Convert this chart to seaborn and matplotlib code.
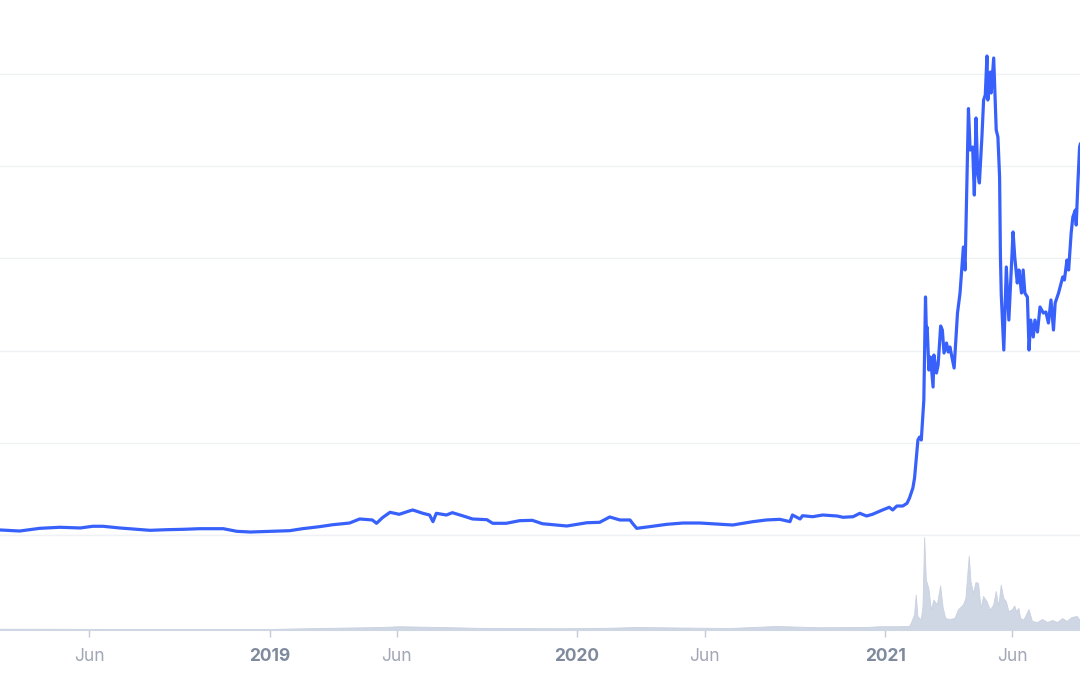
import pandas as pd
import matplotlib.pyplot as plt
import seaborn as sns

# price line, USD
price_dates = [
    '2018-02-15', '2018-03-10', '2018-04-03', '2018-04-27', '2018-05-21', '2018-06-05',
    '2018-06-17', '2018-07-07', '2018-07-23', '2018-08-12', '2018-09-01', '2018-09-20',
    '2018-10-10', '2018-11-07', '2018-11-23', '2018-12-09', '2019-01-01', '2019-01-25',
    '2019-02-09', '2019-03-01', '2019-03-17', '2019-04-06', '2019-04-18', '2019-05-03',
    '2019-05-08', '2019-05-15', '2019-05-24', '2019-06-04', '2019-06-16', '2019-06-20',
    '2019-07-02', '2019-07-10', '2019-07-14', '2019-07-18', '2019-07-30', '2019-08-06',
    '2019-08-18', '2019-08-30', '2019-09-16', '2019-09-23', '2019-10-09', '2019-10-25',
    '2019-11-09', '2019-11-21', '2019-12-20', '2020-01-13', '2020-01-28', '2020-02-09',
    '2020-02-21', '2020-03-04', '2020-03-07', '2020-03-12', '2020-03-27', '2020-04-17',
    '2020-05-06', '2020-05-26', '2020-06-19', '2020-07-04', '2020-07-28', '2020-08-13',
    '2020-08-29', '2020-09-10', '2020-09-13', '2020-09-18', '2020-09-22', '2020-09-25',
    '2020-10-07', '2020-10-19', '2020-11-05', '2020-11-12', '2020-11-24', '2020-12-02',
    '2020-12-10', '2020-12-17', '2020-12-29', '2021-01-06', '2021-01-10', '2021-01-15',
    '2021-01-22', '2021-01-27', '2021-01-30', '2021-02-03', '2021-02-05', '2021-02-08',
    '2021-02-09', '2021-02-11', '2021-02-13', '2021-02-16', '2021-02-18', '2021-02-19',
    '2021-02-20', '2021-02-22', '2021-02-24', '2021-02-27', '2021-02-28', '2021-03-03',
    '2021-03-05', '2021-03-08', '2021-03-10', '2021-03-12', '2021-03-15', '2021-03-17',
    '2021-03-19', '2021-03-24', '2021-03-28', '2021-03-31', '2021-04-04', '2021-04-06',
    '2021-04-10', '2021-04-12', '2021-04-15', '2021-04-17', '2021-04-19', '2021-04-21',
    '2021-04-23', '2021-04-26', '2021-04-28', '2021-04-30', '2021-05-02', '2021-05-03',
    '2021-05-06', '2021-05-07', '2021-05-10', '2021-05-12', '2021-05-13', '2021-05-15',
    '2021-05-17', '2021-05-18', '2021-05-19', '2021-05-22', '2021-05-25', '2021-05-28',
    '2021-06-02', '2021-06-04', '2021-06-07', '2021-06-09', '2021-06-12', '2021-06-14',
    '2021-06-16', '2021-06-19', '2021-06-21', '2021-06-23', '2021-06-26', '2021-06-28',
    '2021-07-01', '2021-07-04', '2021-07-08', '2021-07-11', '2021-07-14', '2021-07-17',
    '2021-07-20', '2021-07-22', '2021-07-26', '2021-07-31', '2021-08-02', '2021-08-05',
    '2021-08-07', '2021-08-10', '2021-08-12', '2021-08-15', '2021-08-16', '2021-08-18',
    '2021-08-20', '2021-08-21',
]
price_usd = [
    7.1, 5.6, 9.4, 10.9, 9.9, 12.3,
    12.3, 9.9, 8.5, 6.6, 7.5, 8.0,
    8.9, 8.9, 5.2, 4.2, 5.2, 6.1,
    8.9, 11.7, 14.5, 16.9, 22.6, 21.2,
    16.5, 24.4, 32.0, 29.2, 33.9, 35.3,
    30.6, 28.2, 18.8, 30.6, 28.2, 31.5,
    27.2, 22.6, 21.6, 16.5, 16.5, 20.2,
    20.7, 15.9, 12.7, 17.3, 17.9, 25.4,
    21.2, 21.2, 16.5, 9.4, 11.7, 15.1,
    16.9, 16.9, 15.1, 14.1, 18.8, 21.2,
    22.1, 18.8, 28.2, 25.0, 22.6, 27.2,
    25.8, 28.2, 26.8, 25.0, 25.8, 30.6,
    26.8, 29.2, 35.3, 39.1, 35.3, 40.9,
    40.9, 44.7, 52.2, 66.3, 80.4, 119.9,
    134.0, 138.2, 134.0, 190.0, 335.7, 289.0,
    293.0, 232.7, 251.0, 208.7, 253.9, 228.5,
    239.8, 294.8, 289.1, 256.7, 270.8, 258.1,
    265.2, 235.5, 313.1, 341.3, 406.2, 373.8,
    601.4, 543.0, 547.2, 479.5, 588.2, 510.6,
    496.5, 561.4, 613.5, 620.6, 675.6, 613.5,
    653.0, 623.4, 672.8, 603.7, 571.2, 561.4,
    504.9, 392.1, 338.5, 260.9, 378.0, 303.2,
    427.4, 392.1, 355.4, 373.8, 341.3, 373.8,
    341.3, 335.7, 260.9, 303.2, 279.3, 303.2,
    286.3, 321.6, 313.1, 314.5, 299.0, 331.5,
    289.1, 327.2, 341.3, 363.9, 359.7, 387.9,
    373.8, 425.9, 448.5, 458.4, 437.2, 496.5,
    547.2, 552.0,
]

# trading volume, billions USD
volume_dates = [
    '2018-02-15', '2018-06-01', '2018-10-01', '2019-01-01', '2019-03-01', '2019-05-14',
    '2019-06-04', '2019-07-23', '2019-09-15', '2019-12-15', '2020-02-10', '2020-03-12',
    '2020-05-01', '2020-07-01', '2020-08-25', '2020-10-15', '2020-12-10', '2020-12-26',
    '2021-01-18', '2021-01-30', '2021-02-01', '2021-02-05', '2021-02-07', '2021-02-09',
    '2021-02-13', '2021-02-15', '2021-02-17', '2021-02-19', '2021-02-22', '2021-02-25',
    '2021-02-28', '2021-03-04', '2021-03-08', '2021-03-11', '2021-03-14', '2021-03-19',
    '2021-03-25', '2021-03-29', '2021-04-04', '2021-04-07', '2021-04-11', '2021-04-13',
    '2021-04-16', '2021-04-19', '2021-04-22', '2021-04-25', '2021-04-28', '2021-05-02',
    '2021-05-06', '2021-05-10', '2021-05-13', '2021-05-16', '2021-05-19', '2021-05-22',
    '2021-05-25', '2021-05-28', '2021-06-01', '2021-06-04', '2021-06-06', '2021-06-09',
    '2021-06-11', '2021-06-15', '2021-06-21', '2021-06-25', '2021-07-01', '2021-07-07',
    '2021-07-13', '2021-07-19', '2021-07-25', '2021-07-31', '2021-08-05', '2021-08-11',
    '2021-08-17', '2021-08-21',
]
volume_bn = [
    0.15, 0.12, 0.08, 0.10, 0.30, 0.50,
    0.65, 0.50, 0.30, 0.25, 0.35, 0.50,
    0.40, 0.30, 0.70, 0.45, 0.50, 0.66,
    0.66, 0.70, 1.3, 3.0, 7.0, 2.7,
    2.0, 4.7, 18.5, 10.0, 8.3, 4.0,
    6.0, 5.0, 8.8, 4.4, 2.3, 2.1,
    2.3, 4.0, 5.0, 6.3, 14.8, 9.7,
    7.3, 9.5, 9.3, 4.3, 6.7, 5.7,
    4.0, 5.0, 7.7, 4.7, 9.0, 6.3,
    5.7, 3.7, 4.0, 4.8, 3.7, 4.3,
    2.3, 2.0, 4.1, 1.7, 1.5, 2.1,
    1.5, 1.9, 1.5, 2.3, 1.7, 2.5,
    2.7, 1.9,
]

tick_dates = ['2018-06-01', '2019-01-01', '2019-06-01', '2020-01-01',
              '2020-06-01', '2021-01-01', '2021-06-01']
tick_labels = ['Jun', '2019', 'Jun', '2020', 'Jun', '2021', 'Jun']

price = pd.DataFrame({'date': pd.to_datetime(price_dates), 'price': price_usd})
volume = pd.DataFrame({'date': pd.to_datetime(volume_dates), 'volume': volume_bn})

sns.set_style('white')
plt.rcParams['font.family'] = ['Inter', 'DejaVu Sans']

fig = plt.figure(figsize=(10.8, 6.75), dpi=100)
ax = fig.add_axes([0, 140 / 675, 1, 535 / 675])
ax_vol = fig.add_axes([0, 45 / 675, 1, 95 / 675], sharex=ax)

# volume area
ax_vol.fill_between(volume['date'], volume['volume'], color='#cfd6e4', lw=0)
sns.lineplot(data=volume, x='date', y='volume', ax=ax_vol, color='#c9d1e0', lw=0.6)
ax_vol.set_ylim(0, 19)
ax_vol.set_yticks([])
ax_vol.axhline(0, color='#cfd6e4', lw=1.5, clip_on=False)

# price line
sns.lineplot(data=price, x='date', y='price', ax=ax, color='#3861fb', lw=2.3)
ax.set_xlim(pd.Timestamp('2018-02-14 19:00'), pd.Timestamp('2021-08-20 12:00'))
ax.set_ylim(0, 754.6)
ax.set_yticks(range(0, 651, 130))
ax.grid(axis='y', color='#eff1f4', lw=1)
ax.axhline(0, color='#eff1f4', lw=1, clip_on=False, zorder=0)
ax.tick_params(left=False, labelleft=False, bottom=False, labelbottom=False)

for a in (ax, ax_vol):
    a.set_xlabel('')
    a.set_ylabel('')
    a.patch.set_alpha(0)
    for s in a.spines.values():
        s.set_visible(False)

ax_vol.set_xticks(pd.to_datetime(tick_dates))
ax_vol.set_xticklabels(tick_labels)
ax_vol.tick_params(axis='x', bottom=True, length=5, width=1, color='#c3c9d5',
                   pad=8, labelsize=12.5)
for lbl in ax_vol.get_xticklabels():
    if lbl.get_text().isdigit():
        lbl.set_fontweight('bold')
        lbl.set_color('#808a9d')
    else:
        lbl.set_color('#a1a7b5')

fig.savefig('out.png', dpi=100)
plt.close(fig)
